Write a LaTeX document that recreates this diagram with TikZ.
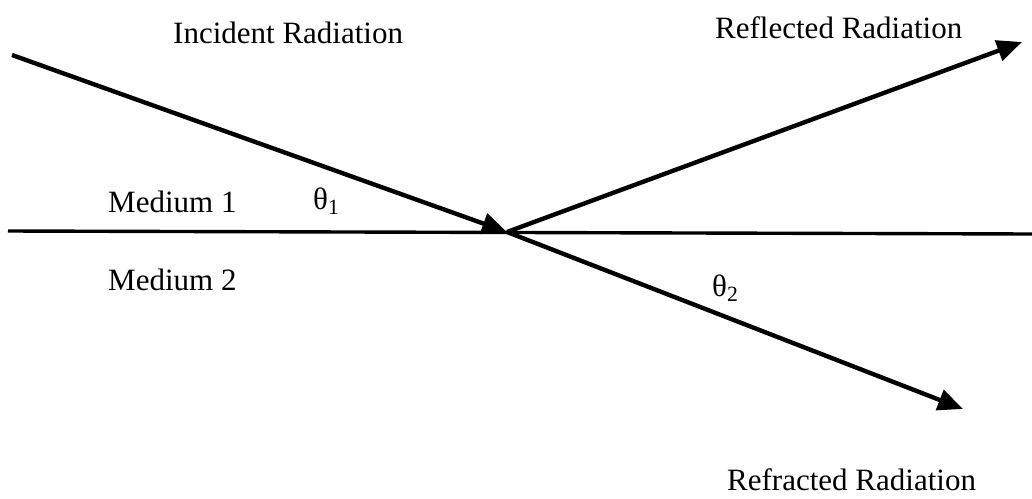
\documentclass[tikz,border=0pt]{standalone}
\usepackage{fontspec}
\setmainfont{Liberation Serif}
\usepackage{tikz}
\usetikzlibrary{arrows.meta}
\tikzset{
  rfray/.style={line width=4.4pt, draw=black, -{Triangle[length=25pt, width=21pt]}},
  rfsurface/.style={line width=3.4pt, draw=black, line cap=butt},
  rflabel/.style={anchor=base west, inner sep=0pt, font=\fontsize{31}{36}\selectfont},
}

\begin{document}
\begin{tikzpicture}[x=1pt, y=-1pt]
\useasboundingbox (0,0) rectangle (1032,498);
\coordinate (src) at (12,55);
\coordinate (hit) at (507,232);
\coordinate (refl) at (1022,42);
\coordinate (refr) at (963,409);
\coordinate (sfl) at (8,231);
\coordinate (sfr) at (1032,234);
\draw[rfsurface] (sfl) -- (sfr);
\draw[rfray] (src) -- (hit);
\draw[rfray] (hit) -- (refl);
\draw[rfray] (hit) -- (refr);
\node[rflabel] (incident) at (173,43) {Incident Radiation};
\node[rflabel] (reflected) at (715,38) {Reflected Radiation};
\node[rflabel] (refracted) at (727,490) {Refracted Radiation};
\node[rflabel] (medone) at (108,212) {Medium 1};
\node[rflabel] (medtwo) at (108,290) {Medium 2};
\node[rflabel] (thone) at (313,209) {θ\textsubscript{1}};
\node[rflabel] (thtwo) at (712,296) {θ\textsubscript{2}};
\end{tikzpicture}
\end{document}
